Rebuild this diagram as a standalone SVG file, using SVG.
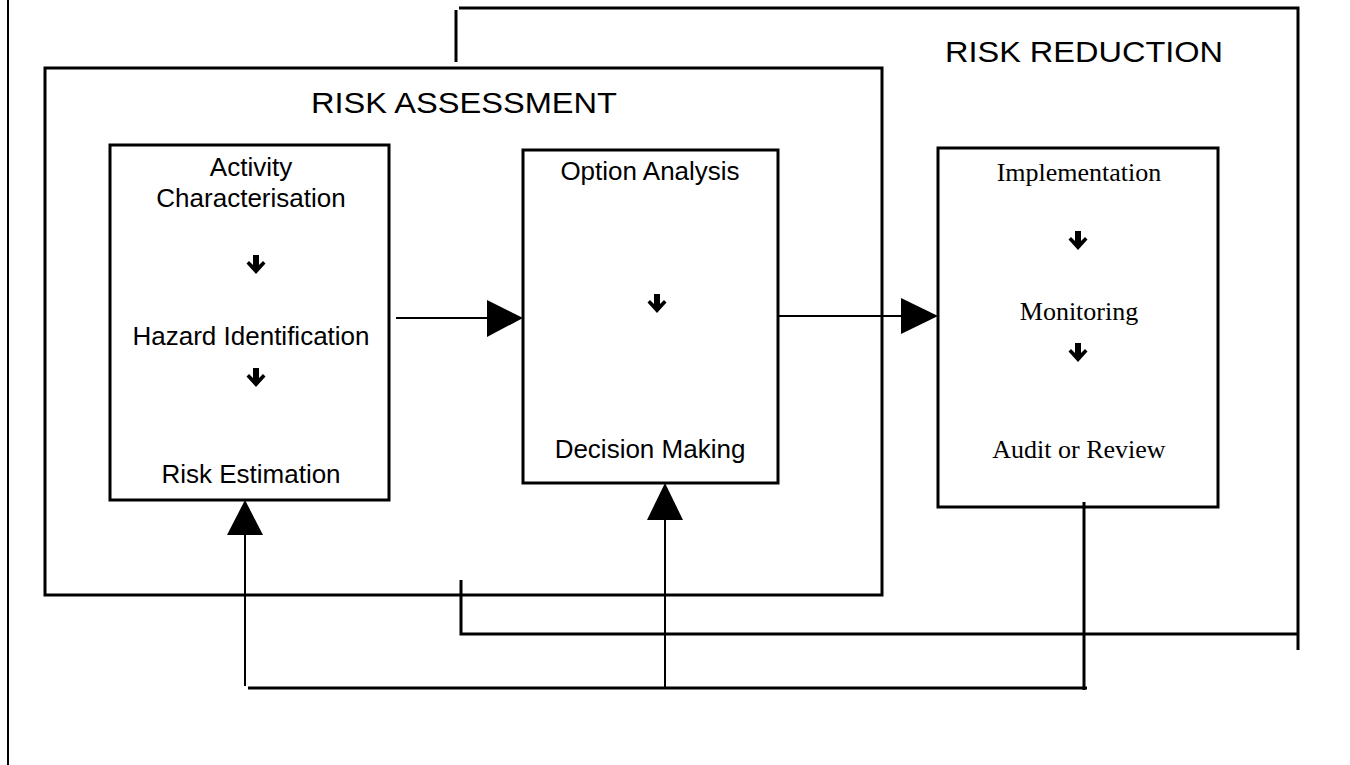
<svg xmlns="http://www.w3.org/2000/svg" width="1350" height="765" viewBox="0 0 1350 765">
<style>
.ln{stroke:#000;stroke-width:3;fill:none}
.thin{stroke:#000;stroke-width:2;fill:none}
.box{fill:#fff;stroke:#000;stroke-width:3}
.sans{font-family:"Liberation Sans",Arial,sans-serif;fill:#000}
.serif{font-family:"Liberation Serif","Times New Roman",serif;fill:#000}
.t{font-size:26px;text-anchor:middle}
.ttl{font-size:30px;text-anchor:middle}
.head{fill:#000}
</style>
<defs>
<path id="dn" d="M-3,-10 H3 V0 L7,-4 L9.5,-1.5 L0,9 L-9.5,-1.5 L-7,-4 L-3,0 Z" fill="#000"/>
</defs>
<rect width="1350" height="765" fill="#fff"/>
<line class="thin" x1="8" y1="0" x2="8" y2="765"/>
<g id="risk-reduction">
<path class="ln" d="M459,8 H1298 V650"/>
<line class="ln" x1="456" y1="10" x2="456" y2="62"/>
<path class="ln" d="M461,580 V634 H1298"/>
<text class="sans ttl" x="1084" y="62" textLength="278" lengthAdjust="spacingAndGlyphs">RISK REDUCTION</text>
</g>
<g id="risk-assessment">
<rect class="ln" x="45" y="68" width="837" height="527"/>
<text class="sans ttl" x="464" y="113" textLength="306" lengthAdjust="spacingAndGlyphs">RISK ASSESSMENT</text>
</g>
<g id="box-assessment">
<rect class="box" x="110" y="145" width="279" height="355"/>
<text class="sans t" x="251" y="176">Activity</text>
<text class="sans t" x="251" y="207">Characterisation</text>
<use href="#dn" x="256" y="265"/>
<text class="sans t" x="251" y="345">Hazard Identification</text>
<use href="#dn" x="256" y="378"/>
<text class="sans t" x="251" y="483">Risk Estimation</text>
</g>
<g id="box-option">
<rect class="box" x="523" y="150" width="255" height="333"/>
<text class="sans t" x="650" y="180">Option Analysis</text>
<use href="#dn" x="657" y="304"/>
<text class="sans t" x="650" y="458">Decision Making</text>
</g>
<g id="box-implementation">
<rect class="box" x="938" y="148" width="280" height="359"/>
<text class="serif t" x="1079" y="181">Implementation</text>
<use href="#dn" x="1078" y="241"/>
<text class="serif t" x="1079" y="320">Monitoring</text>
<use href="#dn" x="1078" y="353"/>
<text class="serif t" x="1079" y="458">Audit or Review</text>
</g>
<g id="connectors">
<line class="thin" x1="396" y1="318" x2="490" y2="318"/>
<polygon class="head" points="487,300 523,318 487,337"/>
<line class="thin" x1="778" y1="316" x2="904" y2="316"/>
<polygon class="head" points="901,298 938,316 901,334"/>
<line class="ln" x1="1084" y1="502" x2="1084" y2="690"/>
<line class="ln" x1="248" y1="688" x2="1087" y2="688"/>
<line class="thin" x1="665" y1="515" x2="665" y2="688"/>
<polygon class="head" points="665,483 683,520 647,520"/>
<line class="thin" x1="245" y1="530" x2="245" y2="686"/>
<polygon class="head" points="245,500 263,535 227,535"/>
</g>
</svg>
